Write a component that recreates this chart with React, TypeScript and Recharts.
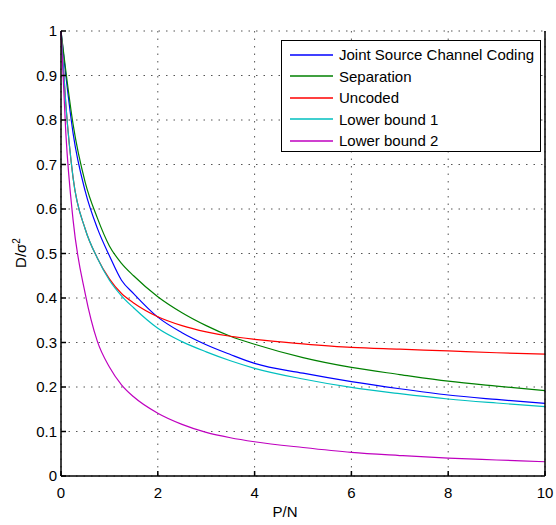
import { CartesianGrid, Legend, Line, LineChart, XAxis, YAxis } from "recharts";

// P/N sample points and the five D/sigma^2 curves
const pn = [0, 0.1, 0.25, 0.5, 0.75, 1, 1.25, 1.5, 2, 2.5, 3, 3.5, 4, 5, 6, 7, 8, 9, 10];
const jscc = [1, 0.9, 0.77, 0.64, 0.557, 0.495, 0.44, 0.41, 0.357, 0.322, 0.295, 0.273, 0.253, 0.231, 0.212, 0.196, 0.182, 0.172, 0.163];
const separation = [1, 0.91, 0.79, 0.66, 0.58, 0.517, 0.478, 0.45, 0.403, 0.367, 0.338, 0.314, 0.296, 0.266, 0.244, 0.228, 0.213, 0.202, 0.192];
const uncoded = [1, 0.835, 0.67, 0.555, 0.49, 0.443, 0.41, 0.389, 0.358, 0.338, 0.324, 0.314, 0.307, 0.297, 0.289, 0.285, 0.281, 0.277, 0.274];
const lowerBound1 = [1, 0.835, 0.67, 0.555, 0.49, 0.44, 0.405, 0.378, 0.332, 0.302, 0.279, 0.259, 0.242, 0.218, 0.199, 0.185, 0.173, 0.164, 0.156];
const lowerBound2 = [1, 0.77, 0.575, 0.41, 0.303, 0.245, 0.205, 0.178, 0.141, 0.116, 0.098, 0.086, 0.077, 0.064, 0.053, 0.046, 0.04, 0.036, 0.032];

const xTicks = [0, 2, 4, 6, 8, 10];
const yTicks = [0, 0.1, 0.2, 0.3, 0.4, 0.5, 0.6, 0.7, 0.8, 0.9, 1];

const series = [
  { key: "jscc", name: "Joint Source Channel Coding", color: "#0000ff", values: jscc },
  { key: "separation", name: "Separation", color: "#008000", values: separation },
  { key: "uncoded", name: "Uncoded", color: "#ff0000", values: uncoded },
  { key: "lb1", name: "Lower bound 1", color: "#00bfbf", values: lowerBound1 },
  { key: "lb2", name: "Lower bound 2", color: "#bf00bf", values: lowerBound2 },
];

const rows = pn.map((x, i) => {
  const row: Record<string, number> = { pn: x };
  series.forEach((s) => (row[s.key] = s.values[i]));
  return row;
});

const font = "'Liberation Sans', Arial, Helvetica, sans-serif";
const tickStyle = { fill: "#000", fontSize: 15, fontFamily: font };

const LegendBox = () => (
  <div
    style={{
      width: 260,
      height: 112,
      boxSizing: "border-box",
      border: "1.5px solid #000",
      background: "#fff",
      padding: "3px 0 0 8px",
      fontFamily: font,
      fontSize: 15,
      color: "#000",
    }}
  >
    {series.map((s) => (
      <div key={s.key} style={{ display: "flex", alignItems: "center", height: 21.5 }}>
        <svg width={43} height={4} style={{ marginRight: 6 }}>
          <line x1={0} x2={43} y1={2} y2={2} stroke={s.color} strokeWidth={1.3} />
        </svg>
        <span>{s.name}</span>
      </div>
    ))}
  </div>
);

export default function App() {
  return (
    <div style={{ position: "absolute", left: 0, top: 0, background: "#fff" }}>
      <LineChart width={556} height={525} data={rows} margin={{ top: 31, right: 0, bottom: 0, left: 0 }}>
        <CartesianGrid stroke="#555" strokeDasharray="1.5 6" horizontalValues={yTicks} verticalValues={xTicks} />
        <XAxis
          dataKey="pn"
          type="number"
          domain={[0, 10]}
          ticks={xTicks}
          height={49}
          tick={tickStyle}
          tickSize={-5}
          tickMargin={16}
          stroke="#000"
          strokeWidth={1.5}
          label={{
            content: () => (
              <text x={285} y={517} textAnchor="middle" fontSize={15} fontFamily={font} fill="#000">
                P/N
              </text>
            ),
          }}
        />
        <XAxis
          xAxisId="top"
          orientation="top"
          dataKey="pn"
          type="number"
          domain={[0, 10]}
          ticks={xTicks}
          height={0}
          tick={false}
          tickSize={-5}
          stroke="#000"
          strokeWidth={1.5}
          label={{
            content: () => (
              <text x={303} y={18} textAnchor="middle" fontSize={14} fontFamily={font} fill="#000">
                Comparison of different coding schemes for a=1
              </text>
            ),
          }}
        />
        <YAxis
          type="number"
          domain={[0, 1]}
          ticks={yTicks}
          width={61}
          tick={tickStyle}
          tickSize={-5}
          tickMargin={9}
          tickFormatter={(v: number) => String(v)}
          stroke="#000"
          strokeWidth={1.5}
          label={{
            content: () => (
              <text transform="translate(26,253) rotate(-90)" textAnchor="middle" fontSize={15} fontFamily={font} fill="#000">
                D/σ
                <tspan dy={-6} fontSize={10}>
                  2
                </tspan>
              </text>
            ),
          }}
        />
        <YAxis
          yAxisId="right"
          orientation="right"
          type="number"
          domain={[0, 1]}
          ticks={yTicks}
          width={11}
          tick={false}
          tickSize={-5}
          stroke="#000"
          strokeWidth={1.5}
        />
        {series.map((s) => (
          <Line
            key={s.key}
            type="monotone"
            dataKey={s.key}
            name={s.name}
            stroke={s.color}
            strokeWidth={1.2}
            dot={false}
            activeDot={false}
            isAnimationActive={false}
          />
        ))}
        <Legend
          layout="vertical"
          align="center"
          verticalAlign="middle"
          content={() => <LegendBox />}
          wrapperStyle={{ left: 281, top: 40, width: 260, height: 112 }}
        />
      </LineChart>
    </div>
  );
}
